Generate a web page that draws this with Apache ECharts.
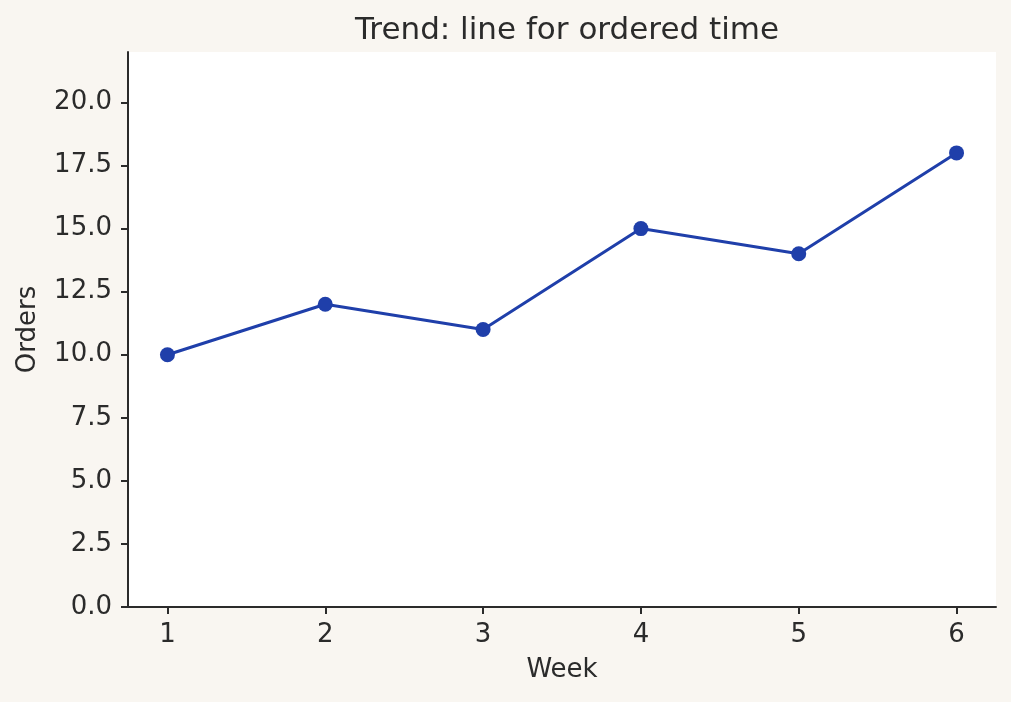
<!DOCTYPE html>
<html>
<head>
<meta charset="utf-8">
<script src="https://cdn.jsdelivr.net/npm/echarts@6/dist/echarts.min.js"></script>
<style>
  html, body { margin: 0; padding: 0; background: #f9f6f1; }
  #container { width: 1011px; height: 702px; }
</style>
</head>
<body>
<div id="container"></div>
<script>
var weeks = [1, 2, 3, 4, 5, 6];
var orders = [10, 12, 11, 15, 14, 18];
var yTicks = [0, 2.5, 5, 7.5, 10, 12.5, 15, 17.5, 20];

var dom = document.getElementById("container");
var myChart = echarts.init(dom);
var textColor = '#2b2b2b';
var font = "'DejaVu Sans', sans-serif";

var option = {
    backgroundColor: '#f9f6f1',
    animation: false,
    title: {
        text: 'Trend: line for ordered time',
        left: 562,
        top: 10,
        textAlign: 'center',
        textStyle: { fontFamily: font, fontSize: 31, fontWeight: 'normal', color: textColor }
    },
    grid: {
        left: 128, right: 15, top: 52, bottom: 95,
        show: true, backgroundColor: '#ffffff', borderWidth: 0
    },
    xAxis: {
        type: 'value',
        min: 0.75,
        max: 6.25,
        name: 'Week',
        nameLocation: 'middle',
        nameGap: 50,
        nameTextStyle: { fontFamily: font, fontSize: 26, color: textColor },
        axisLine: { show: true, lineStyle: { color: textColor, width: 2 } },
        axisTick: { show: true, length: 7, lineStyle: { color: textColor, width: 2 }, customValues: weeks },
        axisLabel: { fontFamily: font, fontSize: 26, color: textColor, margin: 15, customValues: weeks },
        splitLine: { show: false }
    },
    yAxis: {
        type: 'value',
        min: 0,
        max: 22,
        name: 'Orders',
        nameLocation: 'middle',
        nameGap: 87,
        nameTextStyle: { fontFamily: font, fontSize: 26, color: textColor },
        axisLine: { show: true, lineStyle: { color: textColor, width: 2 } },
        axisTick: { show: true, length: 7, lineStyle: { color: textColor, width: 2 }, customValues: yTicks },
        axisLabel: {
            fontFamily: font, fontSize: 26, color: textColor, margin: 16, customValues: yTicks,
            formatter: function (v) { return v.toFixed(1); }
        },
        splitLine: { show: false }
    },
    series: [{
        type: 'line',
        data: weeks.map(function (w, i) { return [w, orders[i]]; }),
        symbol: 'circle',
        symbolSize: 15,
        lineStyle: { color: '#1f3faa', width: 3 },
        itemStyle: { color: '#1f3faa' }
    }]
};
myChart.setOption(option, true);
</script>
</body>
</html>
